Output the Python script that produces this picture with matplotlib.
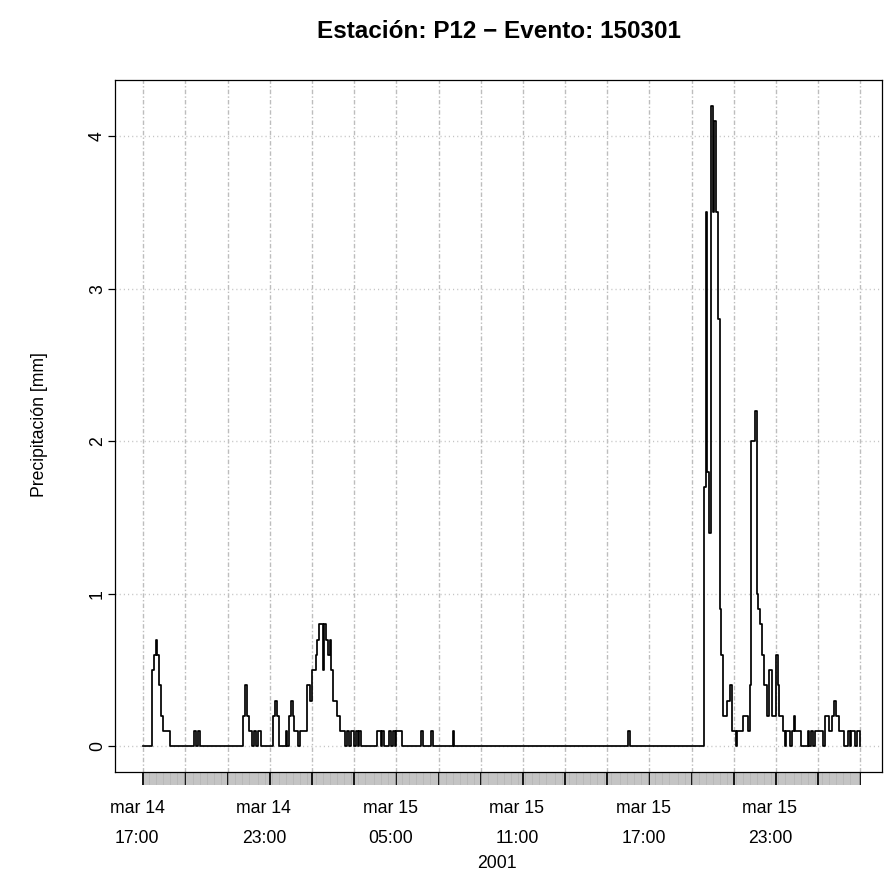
import numpy as np
import pandas as pd
import matplotlib
matplotlib.use("Agg")
import matplotlib.pyplot as plt
import matplotlib.dates as mdates
from matplotlib.transforms import ScaledTranslation

# ---------------- data (5-minute precipitation) ----------------
series_start = "2001-03-14 17:00"
series_end = "2001-03-16 03:00"

# bursts of non-zero rain: (first timestamp, consecutive 5-min values in mm)
bursts = [
    ("2001-03-14 17:25", [0.5, 0.6, 0.7, 0.6, 0.4, 0.2, 0.1, 0.1, 0.1, 0.1]),
    ("2001-03-14 19:25", [0.1]),
    ("2001-03-14 19:35", [0.1]),
    ("2001-03-14 21:45", [0.2, 0.4, 0.2, 0.1, 0.1, 0.0, 0.1, 0.0, 0.1, 0.1]),
    ("2001-03-14 23:10", [0.2, 0.3, 0.2]),
    ("2001-03-14 23:45", [0.1, 0.0, 0.2, 0.3, 0.2, 0.1, 0.1, 0.0, 0.1, 0.1, 0.1, 0.1,
                          0.4, 0.4, 0.3, 0.5, 0.5, 0.6, 0.7, 0.8, 0.8, 0.5, 0.8, 0.7,
                          0.6, 0.7, 0.5, 0.3, 0.3, 0.2, 0.2, 0.1, 0.1, 0.1]),
    ("2001-03-15 02:40", [0.1, 0.0, 0.1, 0.1, 0.0, 0.1, 0.0, 0.1]),
    ("2001-03-15 04:05", [0.1, 0.1, 0.0, 0.1]),
    ("2001-03-15 04:40", [0.1]),
    ("2001-03-15 04:50", [0.1, 0.0, 0.1, 0.1, 0.1]),
    ("2001-03-15 06:10", [0.1]),
    ("2001-03-15 06:40", [0.1]),
    ("2001-03-15 07:40", [0.1]),
    ("2001-03-15 16:00", [0.1]),
    ("2001-03-15 19:35", [1.7, 3.5, 1.8, 1.4, 4.2, 3.5, 4.1, 3.5, 2.8, 0.9, 0.6, 0.2,
                          0.2, 0.3, 0.3, 0.4, 0.1, 0.1, 0.0, 0.1, 0.1, 0.1, 0.2, 0.2,
                          0.2, 0.1, 0.4, 2.0, 2.0, 2.2, 1.0, 0.9, 0.8, 0.6, 0.4, 0.4,
                          0.2, 0.5, 0.5, 0.2, 0.2, 0.6, 0.4, 0.2, 0.2, 0.1, 0.0, 0.1,
                          0.1, 0.0, 0.1, 0.2, 0.1, 0.1, 0.1, 0.0, 0.0, 0.0, 0.0, 0.1,
                          0.0, 0.1, 0.0, 0.1, 0.1, 0.1, 0.1, 0.1, 0.0, 0.2, 0.2, 0.1,
                          0.1, 0.2, 0.3, 0.2, 0.2, 0.1, 0.1, 0.1, 0.0, 0.0, 0.1, 0.0,
                          0.1, 0.1, 0.0, 0.1, 0.1, 0.0]),
]

grid_start = "2001-03-14 17:00"
grid_end = "2001-03-16 03:00"
label_hours = [17, 23, 5, 11]
y_ticks = [0, 1, 2, 3, 4]

title = "Estación: P12 \u2212 Evento: 150301"
ylabel = "Precipitación [mm]"
xlabel = "2001"
month_abbr = {3: "mar"}

# ---------------- build series ----------------
times = pd.date_range(series_start, series_end, freq="5min")
precip = pd.Series(0.0, index=times)
for t0, vals in bursts:
    idx = pd.date_range(t0, periods=len(vals), freq="5min")
    precip.loc[idx] = vals

# ---------------- figure ----------------
plt.rcParams["font.family"] = ["Liberation Sans", "DejaVu Sans"]
plt.rcParams["lines.scale_dashes"] = False

W, H = 884, 877
fig = plt.figure(figsize=(W / 100, H / 100), dpi=100)
L, R, T, B = 115, 882, 80, 772
ax = fig.add_axes([L / W, 1 - B / H, (R - L) / W, (B - T) / H])

t0 = pd.Timestamp(series_start)
hour = pd.Timedelta(hours=1)
ax.set_xlim(mdates.date2num(t0 - 1.342 * hour), mdates.date2num(t0 + 35.03 * hour))
ax.set_ylim(-0.168, 4.368)

# grid
grid_times = pd.date_range(grid_start, grid_end, freq="2h")
for gt in grid_times:
    ax.axvline(mdates.date2num(gt), color="#bdbdbd", lw=1.0,
               linestyle=(0, (3.2, 1.6, 1.0, 1.6)), zorder=1)
for yv in y_ticks:
    ax.axhline(yv, color="#c4c4c4", lw=1.0, linestyle=(0, (0.8, 2.2)), zorder=1)

ax.step(mdates.date2num(precip.index), precip.values, where="post",
        color="black", lw=1.25, zorder=3)

# x ticks
labels = []
for gt in grid_times:
    if gt.hour in label_hours:
        labels.append(f"{month_abbr[gt.month]} {gt.day}\n{gt:%H:%M}")
    else:
        labels.append("")
ax.set_xticks(mdates.date2num(grid_times))
ax.set_xticklabels(labels, fontsize=12.7, linespacing=1.95)
ax.set_xticks(mdates.date2num(times), minor=True)
ax.tick_params(axis="x", which="major", length=9.4, width=1.3, color="black", pad=11)
ax.tick_params(axis="x", which="minor", length=9.4, width=1.15, color="#b6b6b6")
shift = ScaledTranslation(-6 / 100, 0, fig.dpi_scale_trans)
for lab in ax.get_xticklabels():
    lab.set_transform(lab.get_transform() + shift)

# y ticks
ax.set_yticks(y_ticks)
ax.set_yticklabels([str(v) for v in y_ticks], fontsize=12.7, rotation=90, va="center")
ax.tick_params(axis="y", which="major", length=5, width=0.9, pad=1.5)

for s in ax.spines.values():
    s.set_linewidth(0.9)

fig.text(498.5 / W, 1 - 32 / H, title, ha="center", va="center",
         fontsize=17.5, fontweight="bold")
fig.text(497 / W, 1 - 863 / H, xlabel, ha="center", va="center", fontsize=12.7)
fig.text(40 / W, 1 - 425 / H, ylabel, ha="center", va="center", fontsize=12.7,
         rotation=90)

fig.savefig("out.png", dpi=100)
